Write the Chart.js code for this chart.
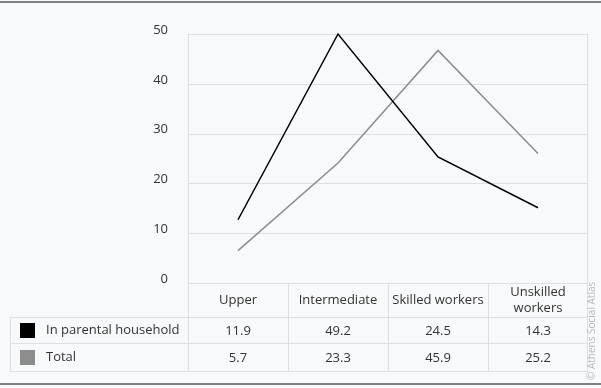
<!DOCTYPE html>
<html lang="en">
<head>
  <meta charset="UTF-8">
  <title>Parental household by social class</title>
  <style>
    body {
      margin: 0;
      padding: 0;
      background-color: #f8f9fb;
      font-family: 'Open Sans', sans-serif;
    }
    .chart-container {
      position: relative;
      width: 601px;
      height: 388px;
    }
  </style>
  <script src="https://cdn.jsdelivr.net/npm/chart.js"></script>
</head>
<body>
  <div class="chart-container">
    <canvas id="classChart"></canvas>
  </div>

  <script>
    const categories = ['Upper', 'Intermediate', 'Skilled workers', ['Unskilled', 'workers']];
    const seriesNames = ['In parental household', 'Total'];
    const parentalValues = [11.9, 49.2, 24.5, 14.3];
    const totalValues = [5.7, 23.3, 45.9, 25.2];
    const yTicks = [0, 10, 20, 30, 40, 50];
    const seriesColors = ['#000000', '#8c8c8c'];

    const FONT = "'Open Sans', sans-serif";
    const TEXT = '#333333';
    const GRID = '#dedfe1';

    // grid, table and frame drawn around the chart area
    const tablePlugin = {
      id: 'tablePlugin',
      beforeDatasetsDraw(chart) {
        const ctx = chart.ctx;
        const x = chart.scales.x;
        const y = chart.scales.y;
        const area = chart.chartArea;
        const shift = 4;
        ctx.save();
        ctx.strokeStyle = GRID;
        ctx.lineWidth = 1;
        // horizontal grid lines
        yTicks.forEach(t => {
          const py = Math.round(y.getPixelForValue(t) + shift) + 0.5;
          ctx.beginPath();
          ctx.moveTo(area.left, py);
          ctx.lineTo(area.right, py);
          ctx.stroke();
        });
        const top = Math.round(y.getPixelForValue(50) + shift);
        const base = Math.round(y.getPixelForValue(0) + shift);
        const rowH = [34, 26, 28];
        const r1 = base + rowH[0];
        const r2 = r1 + rowH[1];
        const r3 = r2 + rowH[2];
        const colW = (area.right - area.left) / categories.length;

        // vertical lines
        ctx.beginPath();
        ctx.moveTo(area.left + 0.5, top);
        ctx.lineTo(area.left + 0.5, r3);
        ctx.moveTo(area.right - 0.5, top);
        ctx.lineTo(area.right - 0.5, r3);
        for (let i = 1; i < categories.length; i++) {
          const px = Math.round(area.left + colW * i) + 0.5;
          ctx.moveTo(px, base);
          ctx.lineTo(px, r3);
        }
        ctx.moveTo(10.5, r1);
        ctx.lineTo(10.5, r3);
        [r1, r2, r3].forEach(py => {
          ctx.moveTo(10, py + 0.5);
          ctx.lineTo(area.right, py + 0.5);
        });
        ctx.stroke();

        // header labels
        ctx.fillStyle = TEXT;
        ctx.font = '13px ' + FONT;
        ctx.textAlign = 'center';
        ctx.textBaseline = 'middle';
        categories.forEach((c, i) => {
          const cx = x.getPixelForValue(i);
          const lines = Array.isArray(c) ? c : [c];
          const mid = base + rowH[0] / 2;
          lines.forEach((l, j) => {
            ctx.fillText(l, cx, mid + (j - (lines.length - 1) / 2) * 16);
          });
        });

        // rows
        const rows = [parentalValues, totalValues];
        const rowMid = [r1 + rowH[1] / 2, r2 + rowH[2] / 2];
        rows.forEach((vals, k) => {
          ctx.fillStyle = TEXT;
          ctx.textAlign = 'center';
          vals.forEach((v, i) => {
            ctx.fillText(v.toFixed(1), x.getPixelForValue(i), rowMid[k] + 1);
          });
          ctx.fillStyle = seriesColors[k];
          ctx.fillRect(20, Math.round(rowMid[k] - 7.5), 15, 15);
          ctx.fillStyle = TEXT;
          ctx.textAlign = 'left';
          ctx.fillText(seriesNames[k], 46, rowMid[k]);
        });

        // copyright
        ctx.save();
        ctx.translate(592, 380);
        ctx.rotate(-Math.PI / 2);
        ctx.fillStyle = '#b8b8b8';
        ctx.font = '10px ' + FONT;
        ctx.textAlign = 'left';
        ctx.textBaseline = 'middle';
        ctx.fillText('© Athens Social Atlas', 0, 0);
        ctx.restore();

        // frame lines top and bottom
        ctx.fillStyle = '#808080';
        ctx.fillRect(0, 1, chart.width, 2);
        ctx.fillRect(0, 383, chart.width, 2);
        ctx.restore();
      }
    };

    const ctx = document.getElementById('classChart').getContext('2d');
    const classChart = new Chart(ctx, {
      type: 'line',
      data: {
        labels: categories,
        datasets: [{
          label: seriesNames[0],
          data: parentalValues,
          borderColor: seriesColors[0],
          borderWidth: 1.5,
          pointRadius: 0,
          tension: 0
        }, {
          label: seriesNames[1],
          data: totalValues,
          borderColor: seriesColors[1],
          borderWidth: 1.5,
          pointRadius: 0,
          tension: 0
        }]
      },
      options: {
        responsive: true,
        maintainAspectRatio: false,
        animation: false,
        layout: {
          padding: { top: 30, right: 13, bottom: 109, left: 0 }
        },
        scales: {
          x: {
            display: false,
            offset: true
          },
          y: {
            min: 0,
            max: 50,
            afterFit: (scale) => { scale.width = 188; },
            afterBuildTicks: (scale) => {
              scale.ticks = yTicks.map(v => ({ value: v }));
            },
            grid: { display: false, drawTicks: false },
            border: { display: false },
            ticks: {
              padding: 20,
              color: TEXT,
              font: { family: FONT, size: 13 }
            }
          }
        },
        plugins: {
          legend: { display: false },
          tooltip: { enabled: false }
        }
      },
      plugins: [tablePlugin]
    });
  </script>
</body>
</html>
